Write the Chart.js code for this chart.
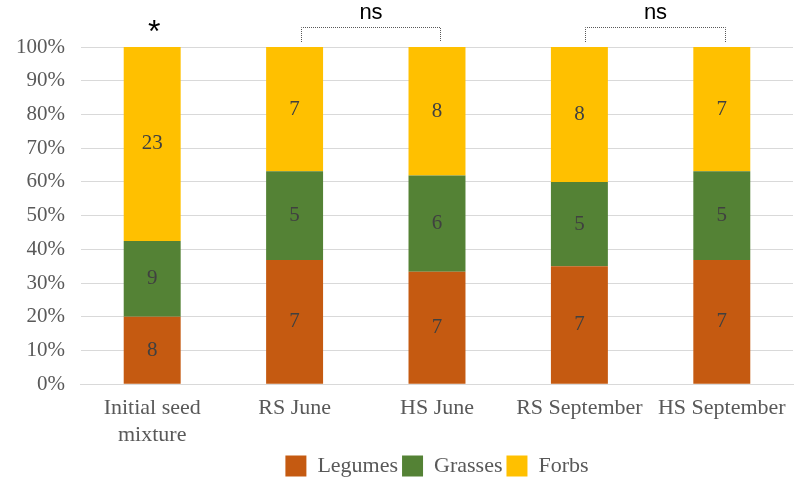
<!DOCTYPE html>
<html>
<head>
<meta charset="utf-8">
<script src="https://cdn.jsdelivr.net/npm/chart.js@4"></script>
<style>
  html, body { margin: 0; padding: 0; background: #fff; }
  #wrap { width: 795px; height: 477px; }
</style>
</head>
<body>
<div id="wrap"><canvas id="seedChart"></canvas></div>
<script>
// categories and species counts per group
const categories = [['Initial seed', 'mixture'], 'RS June', 'HS June', 'RS September', 'HS September'];
const legumes = [8, 7, 7, 7, 7];
const grasses = [9, 5, 6, 5, 5];
const forbs = [23, 7, 8, 8, 7];

// significance marks above the bars
const starLabel = '*';
const pairLabels = [[1, 2, 'ns'], [3, 4, 'ns']];

const serif = '"Liberation Serif", "DejaVu Serif", serif';
const sans = '"Liberation Sans", "DejaVu Sans", sans-serif';

// share of each group in the total of its bar
const totals = legumes.map((v, i) => v + grasses[i] + forbs[i]);
const share = arr => arr.map((v, i) => v / totals[i] * 100);

const dataChart = {
    labels: categories,
    datasets: [
        { label: 'Legumes', data: share(legumes), counts: legumes, backgroundColor: '#C55A11' },
        { label: 'Grasses', data: share(grasses), counts: grasses, backgroundColor: '#548235' },
        { label: 'Forbs', data: share(forbs), counts: forbs, backgroundColor: '#FFC000' }
    ]
};

// count labels in the middle of each segment
const countLabels = {
    id: 'countLabels',
    afterDatasetsDraw(chart) {
        const ctx = chart.ctx;
        ctx.save();
        ctx.font = '21px ' + serif;
        ctx.fillStyle = '#404040';
        ctx.textAlign = 'center';
        ctx.textBaseline = 'middle';
        chart.data.datasets.forEach((ds, di) => {
            chart.getDatasetMeta(di).data.forEach((bar, i) => {
                ctx.fillText(ds.counts[i], bar.x, (bar.y + bar.base) / 2);
            });
        });
        ctx.restore();
    }
};

// star and "ns" brackets above the bars
const sigMarks = {
    id: 'sigMarks',
    afterDraw(chart) {
        const ctx = chart.ctx;
        const x = chart.scales.x;
        const top = chart.scales.y.getPixelForValue(100);
        ctx.save();
        ctx.fillStyle = '#000';
        ctx.textAlign = 'center';
        ctx.textBaseline = 'middle';
        ctx.font = '32px ' + sans;
        ctx.fillText(starLabel, x.getPixelForValue(0) + 2, top - 14);

        ctx.strokeStyle = '#595959';
        ctx.lineWidth = 1;
        ctx.setLineDash([1, 1]);
        pairLabels.forEach(p => {
            const x1 = Math.round(x.getPixelForValue(p[0]) + 6) + 0.5;
            const x2 = Math.round(x.getPixelForValue(p[1]) + 3) + 0.5;
            const yTop = top - 19.5;
            ctx.beginPath();
            ctx.moveTo(x1, top - 5);
            ctx.lineTo(x1, yTop);
            ctx.lineTo(x2, yTop);
            ctx.lineTo(x2, top - 5);
            ctx.stroke();
            ctx.font = '22px ' + sans;
            ctx.fillText(p[2], (x1 + x2) / 2, top - 34);
        });
        ctx.restore();
    }
};

const config = {
    type: 'bar',
    data: dataChart,
    options: {
        responsive: true,
        maintainAspectRatio: false,
        animation: false,
        layout: { padding: { top: 47, right: 2, left: 0, bottom: -10 } },
        datasets: {
            bar: { categoryPercentage: 1, barPercentage: 0.4 }
        },
        scales: {
            x: {
                stacked: true,
                grid: { display: false },
                border: { color: '#d9d9d9' },
                ticks: { color: '#595959', font: { family: serif, size: 22, lineHeight: 1.2 }, maxRotation: 0, padding: 3 }
            },
            y: {
                stacked: true,
                min: 0,
                max: 100,
                grid: { color: '#d9d9d9', drawTicks: false },
                border: { display: false },
                ticks: {
                    stepSize: 10,
                    padding: 16,
                    color: '#595959',
                    font: { family: serif, size: 21 },
                    callback: v => v + '%'
                }
            }
        },
        plugins: {
            legend: {
                position: 'bottom',
                fullSize: false,
                labels: {
                    boxWidth: 21,
                    boxHeight: 21,
                    padding: 4,
                    color: '#595959',
                    font: { family: serif, size: 22, lineHeight: 1 }
                }
            },
            tooltip: { enabled: false }
        }
    },
    plugins: [countLabels, sigMarks]
};

const chart = new Chart(document.getElementById('seedChart'), config);
</script>
</body>
</html>
